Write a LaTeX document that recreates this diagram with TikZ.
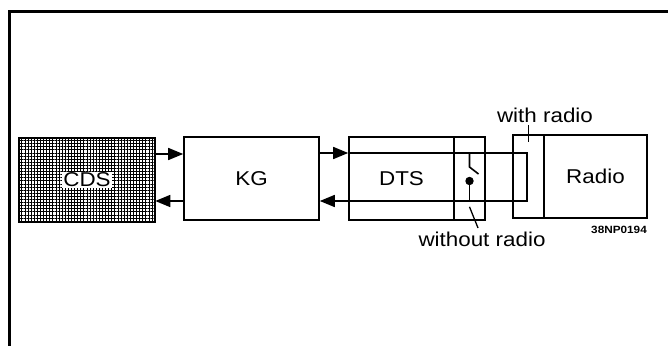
\documentclass[tikz,border=0pt]{standalone}
\usepackage{fontspec}
\setmainfont[FakeStretch=1.12]{Liberation Sans}
\usetikzlibrary{arrows.meta,patterns.meta}
\tikzset{
  unit/.style={draw,line width=1.6pt,minimum height=83pt,inner sep=0pt},
  rail/.style={line width=1.6pt},
  arr/.style={rail,-{Triangle[length=15pt,width=12pt]}},
  pointer/.style={line width=1.3pt},
}
\begin{document}
\begin{tikzpicture}[x=1pt,y=-1pt,font=\fontsize{20}{23}\selectfont]
  \clip (0,0) rectangle (668,345);
  \draw[line width=3pt] (9,12) rectangle (700,380);
  % the units
  \node[unit,minimum width=136pt,minimum height=84pt,pattern={Hatch[angle=0,distance=3.1pt,line width=.55pt]}] (cds) at (87,180) {};
  \node[fill=white,inner sep=1pt] (cdstxt) at (cds.center) {CDS};
  \node[unit,minimum width=135pt] (kg) at (251.5,178.5) {KG};
  \node[unit,minimum width=105pt] (dts) at (401.5,178.5) {DTS};
  \node[unit,minimum width=31pt] (sw) at (469.5,178.5) {};
  \node[unit,minimum width=31pt] (rin) at (528.5,176.5) {};
  \node[unit,minimum width=103pt] (radio) at (595.5,176.5) {Radio};
  % rails
  \coordinate (railT) at (0,154);
  \coordinate (railB) at (0,201);
  \coordinate (loopT) at (527,153);
  \coordinate (loopB) at (527,201);
  \draw[arr] (cds.east |- railT) -- (kg.west |- railT);
  \draw[arr] (kg.west |- railB) -- (cds.east |- railB);
  \draw[arr] (kg.east |- loopT) -- (dts.west |- loopT);
  \draw[arr] (dts.west |- loopT) -- (loopT) -- (loopB) -- (kg.east |- loopB);
  % switch
  \draw[rail] (sw.center |- loopT) -- ++(0,14) -- ++(9,7);
  \fill ([yshift=-2.5pt]sw.center) circle (4.2pt) coordinate (swdot);
  \draw[rail] (swdot) -- (swdot |- loopB);
  % labels
  \node (withr) at (545,115) {with radio};
  \draw[pointer] (rin.center |- 0,125) -- ([yshift=-8pt]rin.north);
  \node (without) at (482,239) {without radio};
  \coordinate (worTip) at (478,228);
  \draw[pointer] ([yshift=14pt]sw.south) -- (worTip);
  \node[anchor=east,font=\fontsize{10.5}{12}\selectfont\bfseries,inner sep=0pt] (code) at (647,229.5) {38NP0194};
\end{tikzpicture}
\end{document}
